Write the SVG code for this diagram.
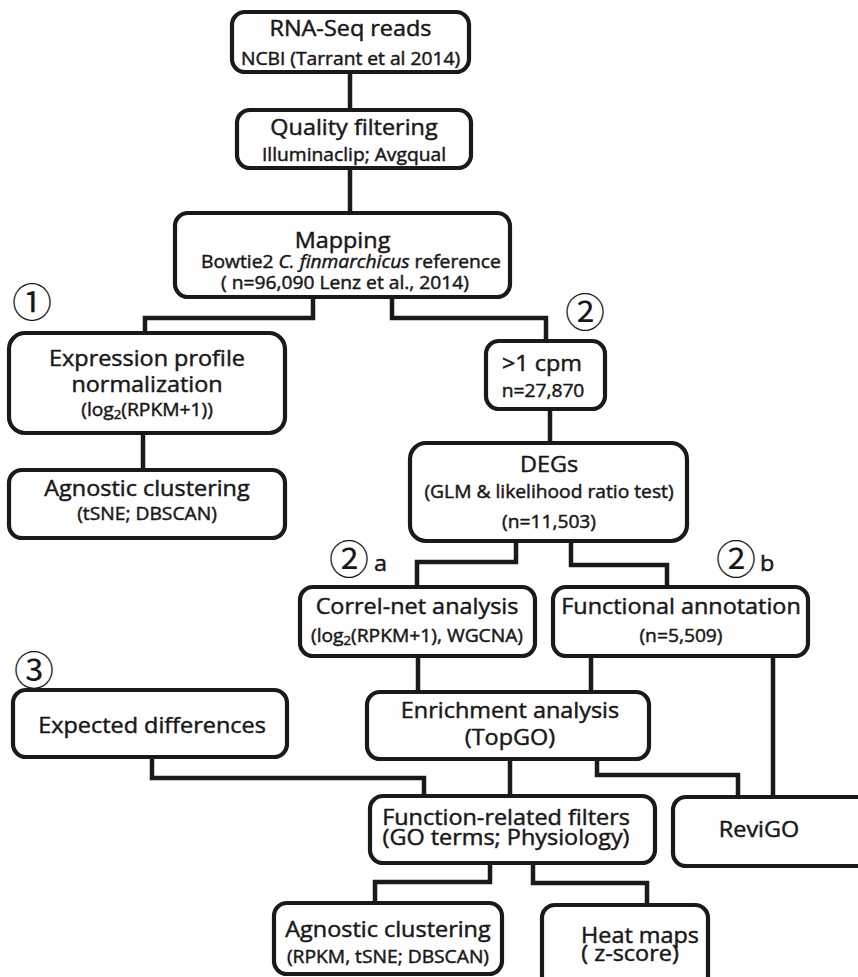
<svg xmlns="http://www.w3.org/2000/svg" width="858" height="977" viewBox="0 0 858 977">
<style>
.box{fill:#fff;stroke:#1a1a1a;stroke-width:4.2}
.t{font-family:"Open Sans","Liberation Sans",sans-serif;fill:#1a1718;stroke:#1a1718;stroke-width:0.45;text-anchor:middle}
.l{font-family:"Open Sans","Liberation Sans",sans-serif;fill:#1a1718;stroke:#1a1718;stroke-width:0.45;font-size:21.3px}
.h{font-size:21.3px}
.s{font-size:17.5px}
.c{font-family:"Noto Sans CJK JP","DejaVu Sans",sans-serif;font-size:40px;fill:#1a1718;text-anchor:middle}
#connectors path{fill:none;stroke:#1a1a1a;stroke-width:4.5}
</style>
<rect width="858" height="977" fill="#fff"/>
<g id="connectors">
<path d="M350 72V110"/>
<path d="M350 168V213"/>
<path d="M313 297V318H145V333"/>
<path d="M392 297V318H546V341"/>
<path d="M143 433V470"/>
<path d="M550 409V443"/>
<path d="M516 541V562H417V587"/>
<path d="M571 541V565H667V587"/>
<path d="M418 656V692"/>
<path d="M591 656V692"/>
<path d="M773 656V797"/>
<path d="M510 759V796"/>
<path d="M597 759V775H738V797"/>
<path d="M152 757V778H424V796"/>
<path d="M490 863V882H375V903"/>
<path d="M533 863V883H647V905"/>
</g>
<g id="labels">
<text class="c" x="32" y="317">①</text>
<text class="c" x="585" y="327">②</text>
<text class="c" x="349" y="574">②</text>
<text class="l" transform="matrix(1.1 0 0 1 374 571)">a</text>
<text class="c" x="736" y="574">②</text>
<text class="l" transform="matrix(1.1 0 0 1 760 571)">b</text>
<text class="c" x="34" y="685">③</text>
</g>
<g id="rna">
<rect class="box" x="232" y="12" width="237" height="60" rx="13"/>
<text class="t h" transform="matrix(1.1 0 0 1 350.5 36)">RNA-Seq reads</text>
<text class="t s" transform="matrix(1.1 0 0 1 350.5 65)">NCBI (Tarrant et al 2014)</text>
</g>
<g id="quality">
<rect class="box" x="237" y="110" width="234" height="58" rx="13"/>
<text class="t h" transform="matrix(1.1 0 0 1 354 135)">Quality filtering</text>
<text class="t s" transform="matrix(1.1 0 0 1 354 161)">Illuminaclip; Avgqual</text>
</g>
<g id="mapping">
<rect class="box" x="175" y="213" width="335" height="84" rx="13"/>
<text class="t h" transform="matrix(1.1 0 0 1 342.5 248)">Mapping</text>
<text class="t s" transform="matrix(1.1 0 0 1 351 268)">Bowtie2 <tspan font-style="italic">C. finmarchicus</tspan> reference</text>
<text class="t s" transform="matrix(1.1 0 0 1 345 289)">( n=96,090 Lenz et al., 2014)</text>
</g>
<g id="expression">
<rect class="box" x="9" y="333" width="276" height="100" rx="16"/>
<text class="t h" transform="matrix(1.1 0 0 1 147 366)">Expression profile</text>
<text class="t h" transform="matrix(1.1 0 0 1 147 392)">normalization</text>
<text class="t s" transform="matrix(1.1 0 0 1 147 416)">(log<tspan font-size="12" dy="3">2</tspan><tspan dy="-3">(RPKM+1))</tspan></text>
</g>
<g id="agnostic1">
<rect class="box" x="9" y="470" width="276" height="68" rx="13"/>
<text class="t h" transform="matrix(1.1 0 0 1 147 496)">Agnostic clustering</text>
<text class="t s" transform="matrix(1.1 0 0 1 147 520)">(tSNE; DBSCAN)</text>
</g>
<g id="cpm">
<rect class="box" x="486" y="341" width="119" height="68" rx="13"/>
<text class="t h" transform="matrix(1.1 0 0 1 542 371)">&gt;1 cpm</text>
<text class="t s" transform="matrix(1.1 0 0 1 543 397)">n=27,870</text>
</g>
<g id="degs">
<rect class="box" x="410" y="443" width="277" height="98" rx="16"/>
<text class="t h" transform="matrix(1.1 0 0 1 549 472)">DEGs</text>
<text class="t s" transform="matrix(1.1 0 0 1 549 498)">(GLM &amp; likelihood ratio test)</text>
<text class="t s" transform="matrix(1.1 0 0 1 549 528)">(n=11,503)</text>
</g>
<g id="correl">
<rect class="box" x="300" y="587" width="235" height="69" rx="13"/>
<text class="t h" transform="matrix(1.1 0 0 1 417 614)">Correl-net analysis</text>
<text class="t s" transform="matrix(1.1 0 0 1 417 642)">(log<tspan font-size="12" dy="3">2</tspan><tspan dy="-3">(RPKM+1), WGCNA)</tspan></text>
</g>
<g id="functional">
<rect class="box" x="553" y="587" width="255" height="69" rx="13"/>
<text class="t h" transform="matrix(1.1 0 0 1 681 614)">Functional annotation</text>
<text class="t s" transform="matrix(1.1 0 0 1 681 642)">(n=5,509)</text>
</g>
<g id="expected">
<rect class="box" x="13" y="690" width="274" height="67" rx="13"/>
<text class="t h" transform="matrix(1.1 0 0 1 152 733)">Expected differences</text>
</g>
<g id="enrichment">
<rect class="box" x="367" y="692" width="282" height="67" rx="13"/>
<text class="t h" transform="matrix(1.1 0 0 1 510 718)">Enrichment analysis</text>
<text class="t h" transform="matrix(1.1 0 0 1 510 745)">(TopGO)</text>
</g>
<g id="function-related">
<rect class="box" x="370" y="796" width="285" height="67" rx="13"/>
<text class="t h" transform="matrix(1.1 0 0 1 506 825)">Function-related filters</text>
<text class="t h" transform="matrix(1.1 0 0 1 506 845)">(GO terms; Physiology)</text>
</g>
<g id="revigo">
<rect class="box" x="673" y="797" width="220" height="69" rx="13"/>
<text class="t h" transform="matrix(1.1 0 0 1 759 837)">ReviGO</text>
</g>
<g id="agnostic2">
<rect class="box" x="274" y="903" width="228" height="71" rx="13"/>
<text class="t h" transform="matrix(1.1 0 0 1 388 937)">Agnostic clustering</text>
<text class="t s" transform="matrix(1.1 0 0 1 388 963)">(RPKM, tSNE; DBSCAN)</text>
</g>
<g id="heatmaps">
<rect class="box" x="542" y="905" width="166" height="90" rx="13"/>
<text class="t h" transform="matrix(1.1 0 0 1 640 943)">Heat maps</text>
<text class="t h" transform="matrix(1.1 0 0 1 630 961)">( z-score)</text>
</g>
</svg>
